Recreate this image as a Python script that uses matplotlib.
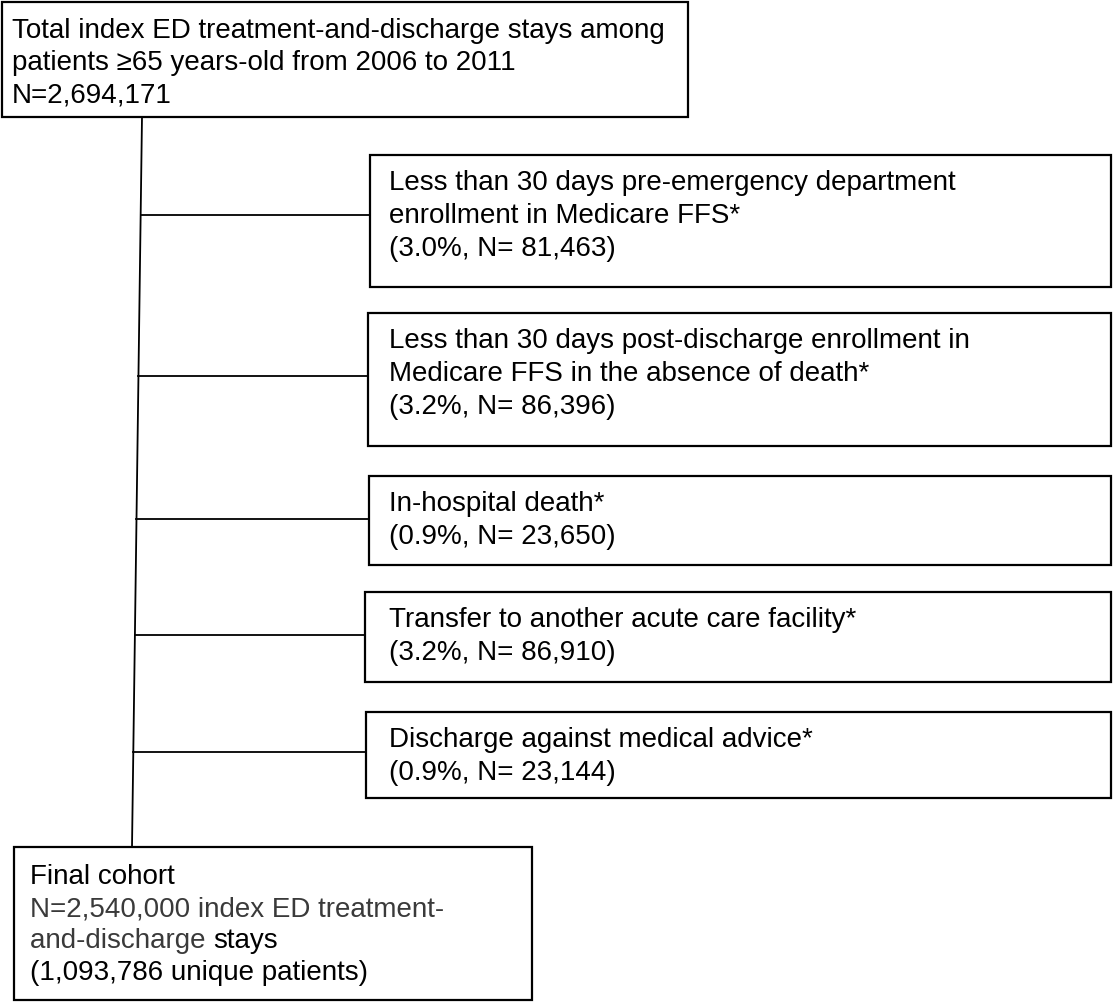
import matplotlib.pyplot as plt
from matplotlib.patches import Rectangle

plt.rcParams['font.family'] = ['Liberation Sans', 'DejaVu Sans']

# --- content ---
top_lines = ['Total index ED treatment-and-discharge stays among',
             'patients \u226565 years-old from 2006 to 2011',
             'N=2,694,171']

excl_labels = [
    ['Less than 30 days pre-emergency department', 'enrollment in Medicare FFS*'],
    ['Less than 30 days post-discharge enrollment in', 'Medicare FFS in the absence of death*'],
    ['In-hospital death*'],
    ['Transfer to another acute care facility*'],
    ['Discharge against medical advice*'],
]
excl_pct = [3.0, 3.2, 0.9, 3.2, 0.9]
excl_n = ['81,463', '86,396', '23,650', '86,910', '23,144']

final_title = 'Final cohort'
final_n = '2,540,000'
final_patients = '1,093,786'

# --- layout (pixel coordinates, y downwards) ---
W, H = 1115, 1002
top_box = (2, 2, 688, 117)
excl_boxes = [(370, 155, 1111, 287), (368, 313, 1111, 446), (369, 476, 1111, 565),
              (365, 592, 1111, 682), (366, 712, 1111, 798)]
conn_y = [215, 376, 519, 635, 752]
final_box = (14, 847, 532, 1000)
trunk = ((142, 117), (132, 847))
text_x = 389
fs = 20
lh = 33

fig = plt.figure(figsize=(W / 100, H / 100), dpi=100)
ax = fig.add_axes([0, 0, 1, 1])
ax.set_xlim(0, W)
ax.set_ylim(H, 0)
ax.axis('off')


def box(b, lw=1.6):
    x0, y0, x1, y1 = b
    ax.add_patch(Rectangle((x0, y0), x1 - x0, y1 - y0, fill=False, ec='black', lw=lw))


def trunk_x(y):
    (xa, ya), (xb, yb) = trunk
    return xa + (xb - xa) * (y - ya) / (yb - ya)


box(top_box)
for i, t in enumerate(top_lines):
    ax.text(12, 31 + i * 32, t, fontsize=fs, va='center', ha='left')

ax.plot([trunk[0][0], trunk[1][0]], [trunk[0][1], trunk[1][1]], color='black', lw=1.3)

for b, yc, lab, p, n in zip(excl_boxes, conn_y, excl_labels, excl_pct, excl_n):
    box(b)
    lines = lab + [f'({p:.1f}%, N= {n})']
    for i, t in enumerate(lines):
        ax.text(text_x, b[1] + 28 + i * lh, t, fontsize=fs, va='center', ha='left')
    ax.plot([trunk_x(yc), b[0]], [yc, yc], color='black', lw=1.3)

box(final_box)
fx = final_box[0] + 16
fy = final_box[1] + 30
flh = 32
ax.text(fx, fy, final_title, fontsize=fs, va='center', ha='left')
ax.text(fx, fy + flh, f'N={final_n} index ED treatment-', fontsize=fs, va='center',
        ha='left', color='#3a3a3a')
t3 = ax.text(fx, fy + 2 * flh, 'and-discharge ', fontsize=fs, va='center', ha='left',
             color='#3a3a3a')
ax.annotate('stays', xy=(1, 0), xycoords=t3, fontsize=fs, va='bottom', ha='left')
ax.text(fx, fy + 3 * flh, f'({final_patients} unique patients)', fontsize=fs,
        va='center', ha='left')

fig.savefig('out.png', dpi=100)
